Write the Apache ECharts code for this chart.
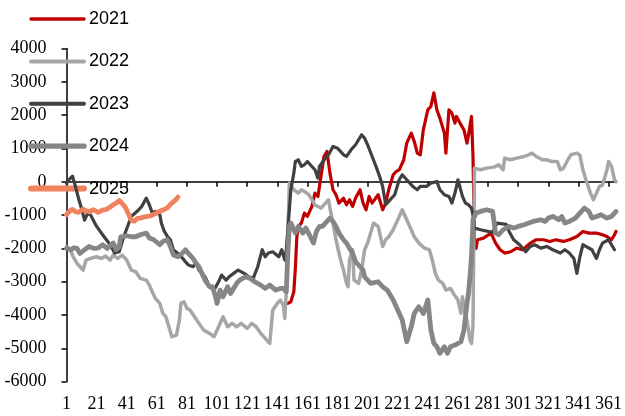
<!DOCTYPE html>
<html>
<head>
<meta charset="utf-8">
<script src="https://cdn.jsdelivr.net/npm/echarts@6/dist/echarts.min.js"></script>
<style>
  html, body { margin: 0; padding: 0; background: #fff; }
  #chart { width: 625px; height: 416px; }
</style>
</head>
<body>
<div id="chart"></div>
<script>
// Day-of-year categories 1..366
const days = [];
for (let i = 1; i <= 366; i++) days.push(String(i));

// [day, value] readings for each year
const y2021 = [[148,-3650],[150,-3600],[152,-3300],[153,-2600],[154,-1650],[155,-1340],[157,-1240],[159,-940],[161,-1040],[164,-740],[166,-340],[168,-440],[170,160],[172,760],[174,910],[176,260],[178,-240],[180,-390],[182,-640],[185,-490],[187,-690],[189,-540],[191,-740],[193,-490],[196,-240],[198,-640],[200,-840],[202,-440],[204,-640],[208,-390],[211,-840],[213,-640],[215,-240],[218,210],[220,310],[222,360],[225,660],[227,1160],[230,1460],[232,1210],[234,860],[236,810],[238,1560],[241,2160],[243,2260],[245,2670],[247,2160],[249,1910],[252,1460],[253,860],[255,2160],[257,2060],[259,1760],[260,1960],[263,1710],[265,1560],[267,1160],[268,1400],[270,1960],[271,760],[272,-1900],[273,-2000],[274,-1740],[278,-1690],[283,-1540],[286,-1840],[289,-2040],[292,-2140],[296,-2100],[300,-1990],[304,-2040],[309,-1840],[313,-1740],[318,-1740],[322,-1790],[326,-1740],[331,-1790],[335,-1740],[340,-1640],[344,-1490],[348,-1540],[353,-1540],[357,-1590],[360,-1640],[363,-1740],[365,-1590],[366,-1490]];

const y2022 = [[1,-1950],[3,-2000],[4,-2040],[6,-2300],[8,-2450],[10,-2550],[12,-2650],[14,-2350],[17,-2300],[21,-2250],[24,-2300],[27,-2230],[30,-2350],[32,-2200],[35,-2300],[38,-2200],[41,-2350],[44,-2650],[47,-2700],[50,-2900],[54,-2950],[56,-3100],[58,-3300],[60,-3500],[63,-3650],[65,-3950],[67,-4050],[69,-4350],[71,-4650],[74,-4600],[76,-4150],[77,-3650],[79,-3600],[81,-3800],[83,-3850],[86,-4050],[89,-4250],[92,-4450],[96,-4550],[99,-4650],[102,-4350],[105,-4050],[108,-4350],[111,-4250],[114,-4350],[117,-4250],[121,-4400],[124,-4250],[127,-4350],[130,-4550],[132,-4650],[134,-4750],[136,-4850],[137,-4350],[138,-3850],[141,-3650],[143,-3550],[145,-3700],[146,-4100],[147,-3300],[148,-1650],[149,-40],[150,0],[152,-240],[155,-340],[157,-240],[159,-290],[162,-390],[164,-540],[166,-690],[168,-740],[170,-790],[173,-640],[175,-540],[176,-790],[178,-1240],[180,-1740],[183,-2340],[185,-2650],[187,-3050],[188,-3150],[189,-2350],[191,-2040],[192,-2950],[195,-3050],[197,-2650],[199,-2040],[201,-1840],[203,-1540],[205,-1240],[208,-1340],[211,-1940],[213,-1740],[215,-1650],[218,-1440],[220,-1240],[222,-1040],[224,-840],[226,-1040],[229,-1340],[232,-1650],[235,-1840],[239,-2000],[242,-2040],[244,-2350],[246,-2750],[248,-2950],[251,-3050],[253,-3250],[256,-3200],[258,-3350],[261,-3550],[263,-3950],[264,-3450],[265,-3850],[267,-4150],[269,-4750],[270,-4850],[271,-4300],[272,410],[276,360],[280,410],[285,440],[288,510],[291,360],[292,710],[296,660],[300,710],[305,760],[308,810],[310,860],[313,760],[317,660],[320,660],[323,610],[327,610],[329,360],[331,400],[334,660],[336,810],[340,860],[342,800],[344,360],[346,60],[349,-340],[351,-540],[353,-340],[355,-140],[357,-100],[360,360],[361,610],[363,460],[365,60],[366,0]];

const y2023 = [[1,-50],[3,80],[5,170],[7,-150],[9,-500],[11,-800],[13,-1150],[15,-950],[17,-1000],[21,-1340],[25,-1590],[30,-1890],[33,-2140],[36,-2100],[39,-1650],[42,-1290],[44,-1040],[47,-920],[49,-840],[51,-740],[54,-490],[56,-690],[58,-940],[60,-890],[63,-990],[64,-1240],[66,-1490],[68,-1640],[70,-1740],[72,-2040],[76,-2190],[78,-2290],[80,-2400],[82,-2500],[85,-2550],[87,-2440],[89,-2650],[91,-2750],[93,-2850],[96,-3150],[99,-3250],[102,-3000],[104,-2800],[107,-2950],[109,-2850],[112,-2750],[115,-2650],[119,-2750],[122,-2850],[125,-2900],[128,-2550],[131,-2040],[133,-2250],[135,-2140],[138,-2100],[142,-2250],[144,-2040],[146,-2350],[147,-2040],[148,-1440],[149,-840],[150,-240],[152,260],[153,610],[155,660],[157,460],[159,510],[161,610],[164,460],[166,360],[168,110],[169,460],[173,710],[175,810],[178,1060],[181,1010],[185,810],[187,760],[190,960],[193,1110],[197,1410],[199,1310],[201,1110],[204,760],[207,410],[209,160],[211,-140],[213,-690],[215,-590],[219,-390],[222,60],[224,210],[227,60],[231,-140],[234,-240],[236,-140],[240,-140],[243,-40],[247,10],[249,-240],[252,-390],[255,-440],[257,-640],[259,-340],[261,60],[264,-440],[266,-640],[268,-690],[270,-790],[271,-1000],[272,-1390],[276,-1440],[284,-1520],[287,-1240],[293,-1280],[295,-1490],[298,-1740],[302,-1890],[306,-2100],[309,-1940],[312,-1890],[316,-1990],[320,-1940],[324,-2040],[329,-2140],[332,-2040],[335,-2140],[338,-2300],[340,-2750],[342,-2250],[344,-1890],[346,-1940],[350,-2040],[353,-2300],[355,-2040],[357,-1840],[361,-1740],[363,-1890],[365,-2040]];

const y2024 = [[1,-2000],[4,-2040],[6,-1980],[8,-2000],[10,-2150],[13,-2040],[16,-1940],[19,-2000],[22,-1990],[25,-1890],[28,-2000],[32,-1840],[34,-2040],[36,-1950],[37,-1650],[41,-1620],[44,-1650],[47,-1650],[50,-1590],[54,-1540],[56,-1690],[59,-1740],[63,-1890],[65,-1790],[68,-1740],[70,-1940],[72,-2200],[75,-2250],[78,-2140],[80,-2040],[82,-2150],[85,-2300],[87,-2440],[89,-2550],[91,-2750],[93,-2950],[96,-3150],[98,-3150],[100,-3450],[101,-3650],[103,-3250],[105,-3450],[108,-3150],[110,-3350],[112,-3200],[114,-3050],[116,-2950],[120,-2850],[123,-2900],[126,-3000],[130,-3100],[133,-3200],[136,-3100],[140,-3250],[143,-3200],[145,-3200],[147,-3300],[148,-2150],[149,-1340],[150,-1240],[153,-1540],[155,-1340],[158,-1540],[160,-1390],[163,-1650],[165,-1840],[167,-1490],[169,-1340],[171,-1340],[174,-1190],[176,-1090],[178,-1190],[180,-1340],[182,-1540],[185,-1740],[187,-1840],[189,-2000],[191,-2140],[193,-2400],[196,-2550],[198,-2650],[199,-2850],[203,-3050],[208,-3000],[211,-3150],[214,-3250],[218,-3550],[221,-3850],[224,-4150],[227,-4800],[230,-4350],[232,-3950],[235,-3750],[238,-3950],[241,-3550],[243,-4450],[245,-4850],[247,-4950],[249,-5150],[252,-4950],[254,-5150],[256,-4950],[259,-4900],[263,-4800],[265,-4450],[267,-3650],[268,-3350],[269,-2850],[270,-2250],[271,-1140],[273,-940],[276,-890],[280,-840],[284,-890],[286,-1540],[288,-1590],[291,-1440],[295,-1340],[298,-1390],[301,-1340],[305,-1290],[308,-1240],[311,-1190],[316,-1140],[319,-1190],[321,-1090],[324,-1040],[328,-1140],[330,-1040],[332,-1240],[335,-1190],[339,-1090],[342,-940],[345,-790],[348,-890],[350,-1090],[353,-1040],[356,-990],[360,-1090],[363,-1040],[365,-940],[366,-890]];

const y2025 = [[1,-990],[3,-880],[5,-830],[7,-900],[9,-920],[12,-820],[14,-870],[16,-900],[19,-840],[22,-920],[25,-850],[28,-820],[30,-760],[32,-690],[34,-640],[36,-560],[38,-650],[40,-760],[42,-950],[44,-1150],[46,-1180],[48,-1100],[50,-1090],[52,-1060],[55,-1040],[58,-1000],[61,-930],[63,-880],[65,-850],[68,-780],[70,-680],[72,-600],[74,-520],[75,-460]];

// y-axis range and step
const yMin = -6000, yMax = 4000, yStep = 1000;

const serif = 'Liberation Serif';
const sans = 'Liberation Sans';

// colour and stroke width per year: [plot line, legend key]
const styles = {
  '2021': { color: '#C00000', width: 3.2, keyWidth: 3.4 },
  '2022': { color: '#A6A6A6', width: 3.5, keyWidth: 4 },
  '2023': { color: '#404040', width: 3.2, keyWidth: 4 },
  '2024': { color: '#868686', width: 4.8, keyWidth: 5.3 },
  '2025': { color: '#F0825E', width: 4.8, keyWidth: 6 }
};

// category axis takes point positions as zero-based indices
function toIndexed(pairs) {
  return pairs.map(p => [p[0] - 1, p[1]]);
}

function lineSeries(name, pairs, z) {
  const s = styles[name];
  return {
    name: name,
    type: 'line',
    data: toIndexed(pairs),
    symbol: 'none',
    z: z,
    lineStyle: { color: s.color, width: s.width, cap: 'round', join: 'round' },
    itemStyle: { color: s.color }
  };
}

const legendItems = Object.keys(styles).map(name => ({
  name: name,
  itemStyle: { opacity: 0 },
  lineStyle: { color: styles[name].color, width: styles[name].keyWidth, cap: 'round' }
}));

const chart = echarts.init(document.getElementById('chart'), null, { renderer: 'canvas' });
chart.setOption({
  animation: false,
  backgroundColor: '#ffffff',
  grid: { left: 66.5, right: 5, top: 48.5, bottom: 34.3, containLabel: false },
  legend: {
    orient: 'vertical',
    left: 28,
    top: 10,
    padding: 0,
    itemWidth: 53,
    itemHeight: 16,
    itemGap: 24.4,
    data: legendItems,
    itemStyle: { opacity: 0 },
    textStyle: { fontFamily: sans, fontSize: 18, color: '#000' }
  },
  xAxis: [
    {
      type: 'category',
      data: days,
      boundaryGap: false,
      position: 'bottom',
      axisLine: { show: false, onZero: false },
      axisTick: { show: false },
      splitLine: { show: false },
      axisLabel: { interval: 19, margin: 14, color: '#000', fontFamily: serif, fontSize: 18 }
    },
    {
      type: 'category',
      data: days,
      boundaryGap: false,
      position: 'top',
      axisLine: { show: true, onZero: true, lineStyle: { color: '#000', width: 1.5 } },
      axisTick: { show: true, interval: 19, inside: true, length: 5, lineStyle: { color: '#000', width: 1.5 } },
      splitLine: { show: false },
      axisLabel: { show: false }
    }
  ],
  yAxis: {
    type: 'value',
    min: yMin,
    max: yMax,
    interval: yStep,
    axisLine: { show: true, lineStyle: { color: '#000', width: 1.5 } },
    axisTick: { show: true, length: 5, lineStyle: { color: '#000', width: 1.5 } },
    splitLine: { show: false },
    axisLabel: { margin: 20, color: '#000', fontFamily: serif, fontSize: 18, formatter: v => String(v) }
  },
  series: [
    lineSeries('2021', y2021, 2),
    lineSeries('2022', y2022, 3),
    lineSeries('2023', y2023, 4),
    lineSeries('2024', y2024, 5),
    lineSeries('2025', y2025, 6)
  ]
});
</script>
</body>
</html>
